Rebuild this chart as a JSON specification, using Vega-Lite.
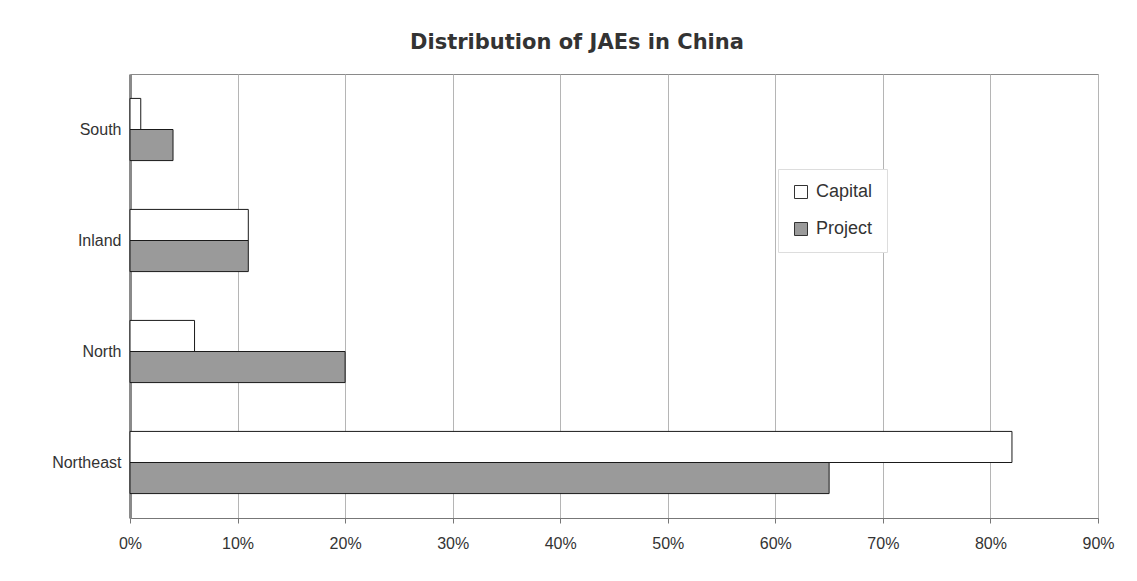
{
  "$schema": "https://vega.github.io/schema/vega-lite/v6.json",
  "width": 968,
  "height": 444,
  "autosize": {"type": "none"},
  "padding": {"left": 130, "top": 74, "right": 39, "bottom": 63},
  "background": "white",
  "title": {
    "text": "Distribution of JAEs in China",
    "font": "DejaVu Sans",
    "fontSize": 21,
    "fontWeight": "bold",
    "color": "#333333",
    "anchor": "middle",
    "dx": -37,
    "offset": 21
  },
  "config": {
    "view": {"stroke": "#8a8a8a", "strokeWidth": 1},
    "font": "Liberation Sans"
  },
  "data": {
    "values": [
      {"region": "South", "series": "Capital", "share": 0.01},
      {"region": "South", "series": "Project", "share": 0.04},
      {"region": "Inland", "series": "Capital", "share": 0.11},
      {"region": "Inland", "series": "Project", "share": 0.11},
      {"region": "North", "series": "Capital", "share": 0.06},
      {"region": "North", "series": "Project", "share": 0.20},
      {"region": "Northeast", "series": "Capital", "share": 0.82},
      {"region": "Northeast", "series": "Project", "share": 0.65}
    ]
  },
  "mark": {"type": "bar", "stroke": "#1a1a1a", "strokeWidth": 1},
  "encoding": {
    "y": {
      "field": "region",
      "type": "nominal",
      "sort": ["South", "Inland", "North", "Northeast"],
      "scale": {"paddingInner": 0.44, "paddingOuter": 0.22},
      "axis": {
        "title": null,
        "ticks": false,
        "labelFontSize": 16,
        "labelColor": "#333333",
        "labelPadding": 9,
        "domainColor": "#8a8a8a",
        "domainWidth": 3
      }
    },
    "yOffset": {
      "field": "series",
      "type": "nominal",
      "sort": ["Capital", "Project"]
    },
    "x": {
      "field": "share",
      "type": "quantitative",
      "scale": {"domain": [0, 0.9], "nice": false},
      "axis": {
        "title": null,
        "format": ".0%",
        "values": [0, 0.1, 0.2, 0.3, 0.4, 0.5, 0.6, 0.7, 0.8, 0.9],
        "labelFlush": false,
        "labelFontSize": 16,
        "labelColor": "#333333",
        "labelPadding": 12,
        "tickColor": "#777777",
        "tickSize": 5,
        "domainColor": "#777777",
        "gridColor": "#b5b5b5",
        "gridWidth": 1
      }
    },
    "fill": {
      "field": "series",
      "type": "nominal",
      "sort": ["Capital", "Project"],
      "scale": {"domain": ["Capital", "Project"], "range": ["#ffffff", "#9a9a9a"]},
      "legend": {
        "title": null,
        "orient": "none",
        "legendX": 648,
        "legendY": 95,
        "labelFontSize": 18,
        "labelColor": "#333333",
        "labelOffset": 6,
        "symbolType": "square",
        "symbolSize": 169,
        "symbolStrokeColor": "#333333",
        "symbolStrokeWidth": 1,
        "rowPadding": 19,
        "padding": 14,
        "strokeColor": "#dddddd",
        "fillColor": "white"
      }
    }
  }
}
